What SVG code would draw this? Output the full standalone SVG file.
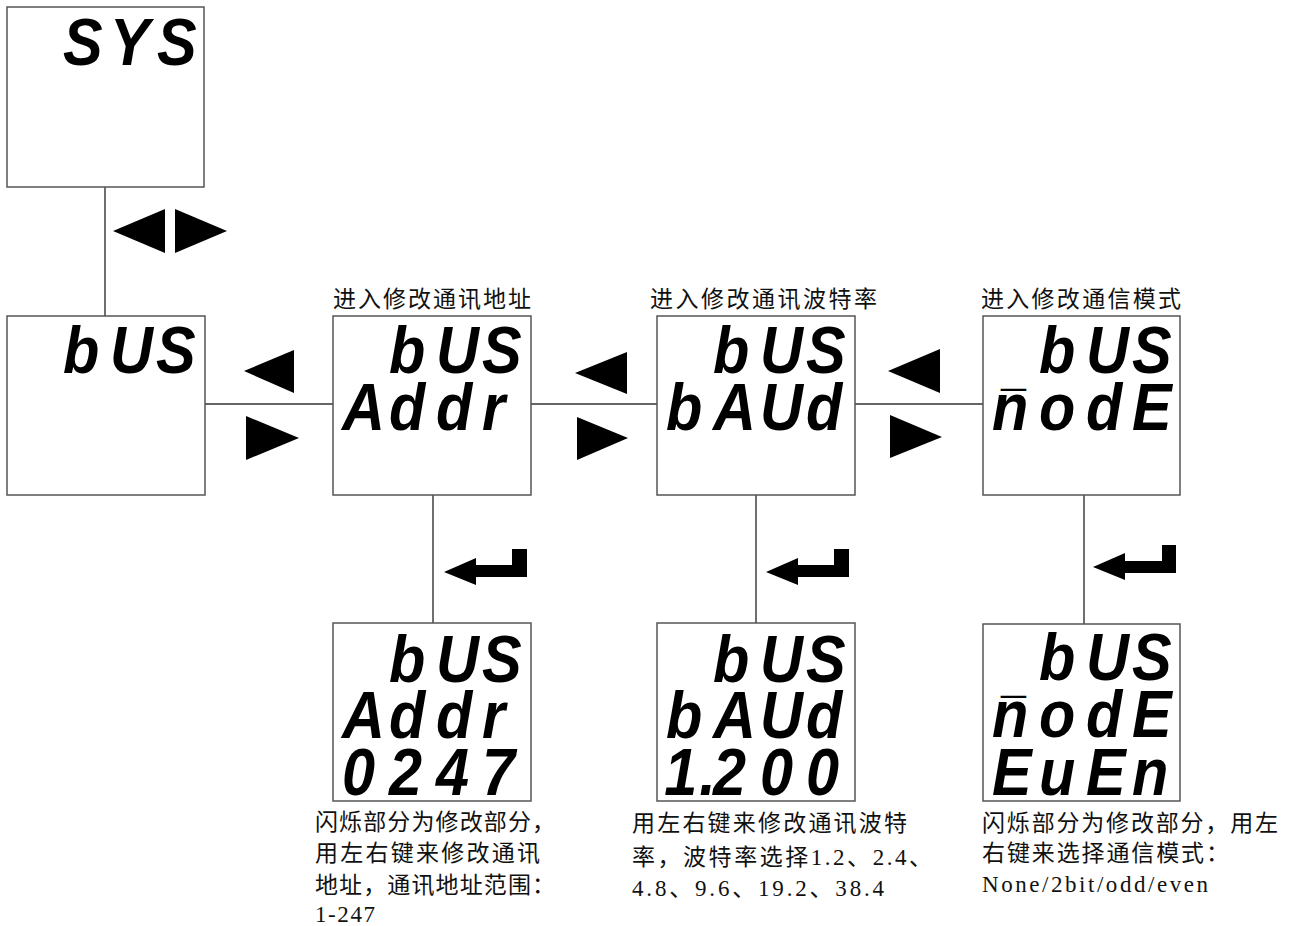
<svg xmlns="http://www.w3.org/2000/svg" width="1300" height="926" viewBox="0 0 1300 926">
<style>
.box{fill:#fff;stroke:#555;stroke-width:1.5}
.ln{stroke:#333;stroke-width:1.4;fill:none}
.tri{fill:#000}
.seg{font-family:"Liberation Sans",sans-serif;font-weight:bold;font-style:italic;font-size:66px;fill:#000}
.bar{font-size:50px}
.cn{font-family:"Liberation Serif","Noto Sans CJK SC",serif;font-size:23px;fill:#111}
</style>
<rect width="1300" height="926" fill="#fff"/>

<g id="connectors">
  <line class="ln" x1="105" y1="187" x2="105" y2="316"/>
  <line class="ln" x1="205" y1="404" x2="333" y2="404"/>
  <line class="ln" x1="531" y1="404" x2="657" y2="404"/>
  <line class="ln" x1="855" y1="404" x2="983" y2="404"/>
  <line class="ln" x1="433" y1="495" x2="433" y2="623"/>
  <line class="ln" x1="756" y1="495" x2="756" y2="623"/>
  <line class="ln" x1="1084" y1="495" x2="1084" y2="624"/>
  <g id="key-icons">
    <polygon class="tri" points="113,231 165,209 165,253"/>
    <polygon class="tri" points="175,209 175,253 227,231"/>
    <polygon class="tri" points="244,371 294,350 294,393"/>
    <polygon class="tri" points="246,416 246,460 299,438"/>
    <polygon class="tri" points="575,373 627,352 627,394"/>
    <polygon class="tri" points="577,417 577,460 628,438"/>
    <polygon class="tri" points="888,371 940,349 940,393"/>
    <polygon class="tri" points="890,415 890,458 942,437"/>
    <path class="tri" d="M444,572 L476,558 L476,565 L512,565 L512,549 L527,549 L527,577 L476,577 L476,585 Z"/>
    <path class="tri" d="M766,572 L798,558 L798,565 L834,565 L834,549 L849,549 L849,577 L798,577 L798,585 Z"/>
    <path class="tri" d="M1093,567 L1125,553 L1125,561 L1162,561 L1162,545 L1176,545 L1176,573 L1125,573 L1125,580 Z"/>
  </g>
</g>

<g id="node-sys">
  <rect class="box" x="7" y="7" width="197" height="180"/>
  <text class="seg" transform="scale(0.9 1)" x="70 122.22 174.44" y="65">SYS</text>
</g>

<g id="node-bus">
  <rect class="box" x="7" y="316" width="198" height="179"/>
  <text class="seg" transform="scale(0.9 1)" x="70 122.22 173.33" y="373">bUS</text>
</g>

<g id="node-addr">
  <text class="cn" x="333" y="307" textLength="198">进入修改通讯地址</text>
  <rect class="box" x="333" y="316" width="198" height="179"/>
  <text class="seg" transform="scale(0.9 1)"><tspan x="432.22 484.44 535.56" y="373">bUS</tspan><tspan x="380 432.22 484.44 535.56" y="430">Addr</tspan></text>
</g>

<g id="node-baud">
  <text class="cn" x="650" y="307" textLength="227">进入修改通讯波特率</text>
  <rect class="box" x="657" y="316" width="198" height="179"/>
  <text class="seg" transform="scale(0.9 1)"><tspan x="792.22 844.44 895.56" y="373">bUS</tspan><tspan x="740 792.22 844.44 895.56" y="430">bAUd</tspan></text>
</g>

<g id="node-mode">
  <text class="cn" x="981" y="307" textLength="200">进入修改通信模式</text>
  <rect class="box" x="983" y="316" width="197" height="179"/>
  <text class="seg" transform="scale(0.9 1)"><tspan x="1154.44 1206.67 1257.78" y="373">bUS</tspan><tspan class="bar" x="1112.22" y="427">¯</tspan><tspan x="1102.22 1154.44 1206.67 1257.78" y="430">nodE</tspan></text>
</g>

<g id="node-addr-edit">
  <rect class="box" x="333" y="623" width="198" height="178"/>
  <text class="seg" transform="scale(0.9 1)"><tspan x="432.22 484.44 535.56" y="682">bUS</tspan><tspan x="380 432.22 484.44 535.56" y="738">Addr</tspan><tspan x="380 432.22 484.44 535.56" y="795">0247</tspan></text>
  <text class="cn" x="315" y="830" textLength="240">闪烁部分为修改部分，</text>
  <text class="cn" x="315" y="861" textLength="225">用左右键来修改通讯</text>
  <text class="cn" x="315" y="893" textLength="240">地址，通讯地址范围：</text>
  <text class="cn" x="315" y="922" textLength="60">1-247</text>
</g>

<g id="node-baud-edit">
  <rect class="box" x="657" y="623" width="198" height="178"/>
  <text class="seg" transform="scale(0.9 1)"><tspan x="792.22 844.44 895.56" y="682">bUS</tspan><tspan x="740 792.22 844.44 895.56" y="738">bAUd</tspan><tspan x="738 777 792.22 844.44 895.56" y="795">1.200</tspan></text>
  <text class="cn" x="632" y="831" textLength="275">用左右键来修改通讯波特</text>
  <text class="cn" x="632" y="865" textLength="300">率，波特率选择1.2、2.4、</text>
  <text class="cn" x="632" y="896" textLength="252">4.8、9.6、19.2、38.4</text>
</g>

<g id="node-mode-edit">
  <rect class="box" x="983" y="624" width="197" height="177"/>
  <text class="seg" transform="scale(0.9 1)"><tspan x="1154.44 1206.67 1257.78" y="680">bUS</tspan><tspan class="bar" x="1112.22" y="734">¯</tspan><tspan x="1102.22 1154.44 1206.67 1257.78" y="737">nodE</tspan><tspan x="1102.22 1154.44 1206.67 1257.78" y="795">EuEn</tspan></text>
  <text class="cn" x="982" y="831" textLength="296">闪烁部分为修改部分，用左</text>
  <text class="cn" x="982" y="861" textLength="247">右键来选择通信模式：</text>
  <text class="cn" x="982" y="892" textLength="226">None/2bit/odd/even</text>
</g>
</svg>
